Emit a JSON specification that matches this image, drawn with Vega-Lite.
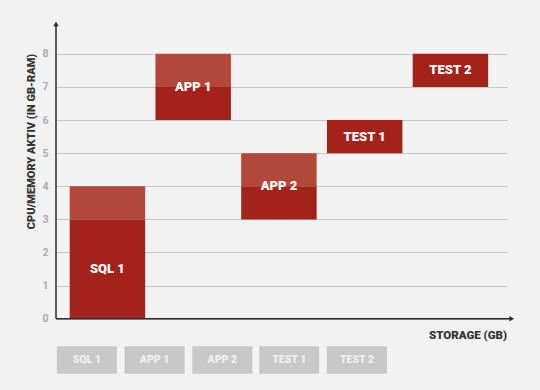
{
  "$schema": "https://vega.github.io/schema/vega-lite/v6.json",
  "width": 451,
  "height": 371,
  "autosize": {"type": "none"},
  "padding": {"left": 56, "top": 14, "right": 33, "bottom": 5},
  "background": "#f2f2f2",
  "config": {"view": {"stroke": null}, "text": {"font": "Roboto", "fontWeight": 900}},
  "datasets": {
    "bars": [
      {"name": "SQL 1", "part": "Basis", "x": 0, "x2": 0.88, "y": 0, "y2": 3},
      {"name": "SQL 1", "part": "Reserve", "x": 0, "x2": 0.88, "y": 3, "y2": 4},
      {"name": "APP 1", "part": "Basis", "x": 1, "x2": 1.88, "y": 6, "y2": 7},
      {"name": "APP 1", "part": "Reserve", "x": 1, "x2": 1.88, "y": 7, "y2": 8},
      {"name": "APP 2", "part": "Basis", "x": 2, "x2": 2.88, "y": 3, "y2": 4},
      {"name": "APP 2", "part": "Reserve", "x": 2, "x2": 2.88, "y": 4, "y2": 5},
      {"name": "TEST 1", "part": "Basis", "x": 3, "x2": 3.88, "y": 5, "y2": 6},
      {"name": "TEST 2", "part": "Basis", "x": 4, "x2": 4.88, "y": 7, "y2": 8}
    ],
    "labels": [
      {"name": "SQL 1", "x": 0.44, "y": 1.5},
      {"name": "APP 1", "x": 1.44, "y": 7},
      {"name": "APP 2", "x": 2.44, "y": 4},
      {"name": "TEST 1", "x": 3.44, "y": 5.5},
      {"name": "TEST 2", "x": 4.44, "y": 7.5}
    ],
    "boxes": [
      {"name": "SQL 1", "x": -0.15, "x2": 0.55, "xc": 0.2, "y": -1.66, "y2": -0.83, "yc": -1.25},
      {"name": "APP 1", "x": 0.64, "x2": 1.34, "xc": 0.99, "y": -1.66, "y2": -0.83, "yc": -1.25},
      {"name": "APP 2", "x": 1.43, "x2": 2.13, "xc": 1.78, "y": -1.66, "y2": -0.83, "yc": -1.25},
      {"name": "TEST 1", "x": 2.21, "x2": 2.91, "xc": 2.56, "y": -1.66, "y2": -0.83, "yc": -1.25},
      {"name": "TEST 2", "x": 3.0, "x2": 3.7, "xc": 3.35, "y": -1.66, "y2": -0.83, "yc": -1.25}
    ],
    "axes": [
      {"axis": "x", "x": -0.16, "x2": 5.14, "y": 0, "y2": 0},
      {"axis": "y", "x": -0.16, "x2": -0.16, "y": 0, "y2": 8.85}
    ],
    "arrows": [
      {"axis": "x", "x": 5.155, "y": 0, "shape": "triangle-right"},
      {"axis": "y", "x": -0.16, "y": 8.9, "shape": "triangle-up"}
    ],
    "xtitle": [
      {"label": "STORAGE (GB)", "x": 5.1, "y": -0.51}
    ]
  },
  "layer": [
    {
      "data": {"name": "bars"},
      "mark": {"type": "rect"},
      "encoding": {
        "x": {"field": "x", "type": "quantitative", "scale": {"domain": [-0.16, 5.1], "nice": false, "zero": false}, "axis": null},
        "x2": {"field": "x2"},
        "y": {
          "field": "y", "type": "quantitative",
          "scale": {"domain": [-2, 9.2], "nice": false, "zero": false},
          "axis": {
            "values": [0, 1, 2, 3, 4, 5, 6, 7, 8],
            "title": "CPU/MEMORY AKTIV (IN GB-RAM)",
            "domain": false, "ticks": false,
            "grid": true, "gridColor": "#c6c6c6", "gridWidth": 1,
            "labelFont": "Roboto", "labelFontWeight": 700, "labelFontSize": 10.5, "labelColor": "#ababab", "labelPadding": 8,
            "titleFont": "Roboto", "titleFontWeight": 900, "titleFontSize": 11, "titleColor": "#333333",
            "titleAngle": -90, "titleX": -25, "titleY": 127, "titleAlign": "center", "titleBaseline": "middle"
          }
        },
        "y2": {"field": "y2"},
        "color": {"field": "part", "type": "nominal", "scale": {"domain": ["Basis", "Reserve"], "range": ["#a3231b", "#b2473a"]}, "legend": null}
      }
    },
    {
      "data": {"name": "labels"},
      "mark": {"type": "text", "color": "#ffffff", "fontSize": 13, "align": "center", "baseline": "middle"},
      "encoding": {
        "x": {"field": "x", "type": "quantitative", "axis": null},
        "y": {"field": "y", "type": "quantitative"},
        "text": {"field": "name"}
      }
    },
    {
      "data": {"name": "boxes"},
      "mark": {"type": "rect", "color": "#c8c8c8"},
      "encoding": {
        "x": {"field": "x", "type": "quantitative", "axis": null},
        "x2": {"field": "x2"},
        "y": {"field": "y", "type": "quantitative"},
        "y2": {"field": "y2"}
      }
    },
    {
      "data": {"name": "boxes"},
      "mark": {"type": "text", "color": "#efefef", "fontSize": 10.5, "align": "center", "baseline": "middle"},
      "encoding": {
        "x": {"field": "xc", "type": "quantitative", "axis": null},
        "y": {"field": "yc", "type": "quantitative"},
        "text": {"field": "name"}
      }
    },
    {
      "data": {"name": "axes"},
      "mark": {"type": "rule", "color": "#2b2b2b", "strokeWidth": 1.5},
      "encoding": {
        "x": {"field": "x", "type": "quantitative", "axis": null},
        "x2": {"field": "x2"},
        "y": {"field": "y", "type": "quantitative"},
        "y2": {"field": "y2"}
      }
    },
    {
      "data": {"name": "arrows"},
      "mark": {"type": "point", "filled": true, "color": "#2b2b2b", "size": 30, "opacity": 1},
      "encoding": {
        "x": {"field": "x", "type": "quantitative", "axis": null},
        "y": {"field": "y", "type": "quantitative"},
        "shape": {"field": "shape", "type": "nominal", "scale": null, "legend": null}
      }
    },
    {
      "data": {"name": "xtitle"},
      "mark": {"type": "text", "color": "#333333", "fontSize": 11.5, "align": "right", "baseline": "middle"},
      "encoding": {
        "x": {"field": "x", "type": "quantitative", "axis": null},
        "y": {"field": "y", "type": "quantitative"},
        "text": {"field": "label"}
      }
    }
  ]
}
